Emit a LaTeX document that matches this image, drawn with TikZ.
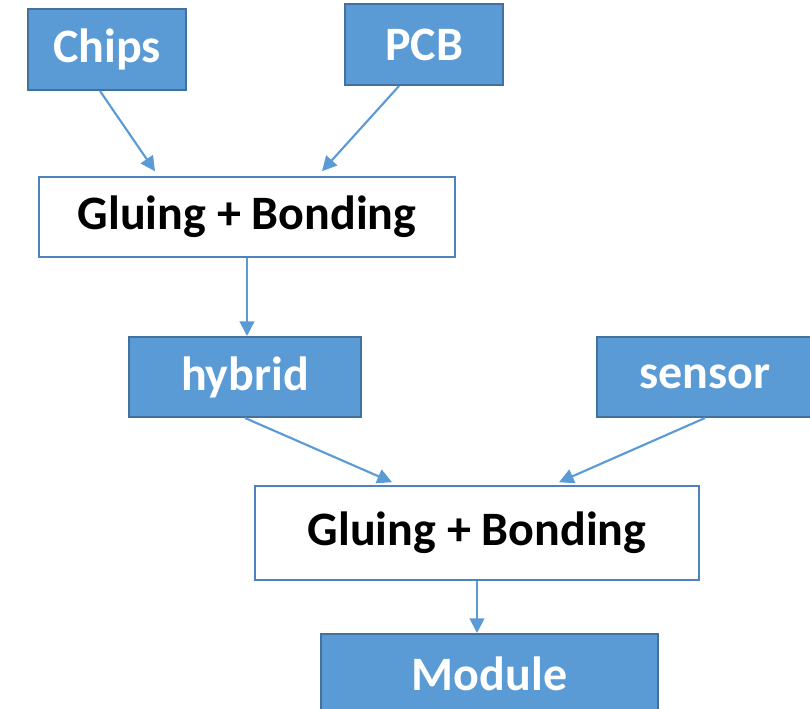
\documentclass[tikz,border=0pt]{standalone}
\usepackage{fontspec}
\setmainfont{Carlito}
\usetikzlibrary{arrows.meta}
\definecolor{partblue}{HTML}{5B9BD5}
\definecolor{partedge}{HTML}{41719C}
\definecolor{stepedge}{HTML}{4F81BD}

\begin{document}
\begin{tikzpicture}[x=0.75pt, y=-0.75pt,
    part/.style={draw=partedge, line width=1.5pt, fill=partblue, text=white,
                 font=\bfseries\fontsize{36}{40}\selectfont, inner sep=0pt},
    stepbox/.style={draw=stepedge, line width=1.2pt, fill=white, text=black,
                 font=\bfseries\fontsize{36}{40}\selectfont, inner sep=0pt},
    flow/.style={draw=partblue, line width=1.6pt, -{Triangle[length=11pt,width=11pt]}}]
        \useasboundingbox (0, 0) rectangle (810, 708);

        \node[part, minimum width=118.5pt, minimum height=60.75pt] (chips)  at (107, 49.5) {Chips};
        \node[part, minimum width=118.5pt, minimum height=60.75pt] (pcb)    at (424, 44.5) {PCB};
        \node[stepbox, minimum width=312pt, minimum height=60pt]   (glue1)  at (247, 217)  {Gluing + Bonding};
        \node[part, minimum width=174pt, minimum height=60pt]      (hybrid) at (245, 377)  {hybrid};
        \node[part, minimum width=162pt, minimum height=60pt]      (sensor) at (705, 377)  {sensor};
        \node[stepbox, minimum width=333pt, minimum height=70.5pt] (glue2)  at (477, 533)  {Gluing + Bonding};
        \node[part, minimum width=252.75pt, minimum height=60pt]   (module) at (489.5, 674) {Module};

        \draw[flow] ([xshift=-5.25pt]chips.south) -- ([xshift=-69pt, yshift=3.75pt]glue1.north);
        \draw[flow] ([xshift=-18.75pt]pcb.south) -- ([xshift=56.25pt, yshift=3.75pt]glue1.north);
        \draw[flow] (glue1.south) -- (glue1.south |- hybrid.north);
        \draw[flow] (hybrid.south) -- ([xshift=-63.75pt, yshift=2.25pt]glue2.north);
        \draw[flow] (sensor.south) -- ([xshift=61.5pt, yshift=2.25pt]glue2.north);
        \draw[flow] (glue2.south) -- (glue2.south |- module.north);
      \end{tikzpicture}
\end{document}
